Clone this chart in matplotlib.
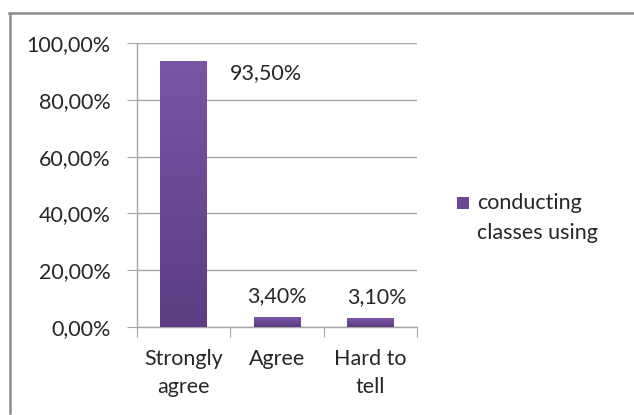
import numpy as np
import matplotlib
matplotlib.use("Agg")
import matplotlib.pyplot as plt
from matplotlib.colors import LinearSegmentedColormap
from matplotlib.lines import Line2D
from matplotlib.patches import Rectangle

categories = ["Strongly\nagree", "Agree", "Hard to\ntell"]
values = [93.5, 3.4, 3.1]
value_labels = ["93,50%", "3,40%", "3,10%"]
series_lines = ["conducting", "classes using"]
y_ticks = [0, 20, 40, 60, 80, 100]

plt.rcParams["font.family"] = ["Lato", "DejaVu Sans"]
fs = 15.5
text_color = "#262626"
W, H = 634, 415

fig = plt.figure(figsize=(W / 100, H / 100), dpi=100)
fig.patch.set_facecolor("white")

# outer chart frame (top and left edges)
frame = dict(transform=fig.transFigure, color="#8c8c8c", linewidth=1.8)
fig.add_artist(Line2D([9 / W, 1.0], [1 - 13.5 / H, 1 - 13.5 / H], **frame))
fig.add_artist(Line2D([9.5 / W, 9.5 / W], [1 - 13.5 / H, 1 - 413 / H], **frame))

ax = fig.add_axes([137 / W, 88 / H, 280 / W, 284 / H])

purple = LinearSegmentedColormap.from_list("bar", ["#5c3d83", "#7a55a6"])
grad = np.linspace(0, 1, 256).reshape(-1, 1)
x = np.arange(len(values))
width = 0.5
for xi, v in zip(x, values):
    ax.imshow(grad, cmap=purple, origin="lower", aspect="auto",
              extent=(xi - width / 2, xi + width / 2, 0, v), zorder=3)
ax.set_xlim(-0.5, 2.5)
ax.set_ylim(0, 100)

# value labels
ax.text(0.88, 89.5, value_labels[0], ha="center", va="center", fontsize=fs, color=text_color)
ax.text(1.0, values[1] + 7.5, value_labels[1], ha="center", va="center", fontsize=fs, color=text_color)
ax.text(2.07, values[2] + 7.5, value_labels[2], ha="center", va="center", fontsize=fs, color=text_color)

ax.set_yticks(y_ticks)
ax.set_yticklabels([f"{t},00%" for t in y_ticks], fontsize=fs, color=text_color)
ax.yaxis.grid(True, color="#a6a6a6", linewidth=1.0, zorder=0)
ax.set_axisbelow(True)

ax.set_xticks([-0.5, 0.5, 1.5, 2.5])
ax.set_xticklabels([])
ax.set_xticks(x, minor=True)
ax.set_xticklabels(categories, minor=True, fontsize=fs, color=text_color, linespacing=1.5)
ax.tick_params(axis="x", which="minor", length=0, pad=16)
ax.tick_params(axis="x", which="major", length=7, color="#a6a6a6", direction="out")
ax.tick_params(axis="y", length=7, color="#a6a6a6", pad=12)

for s in ["top", "right"]:
    ax.spines[s].set_visible(False)
for s in ["left", "bottom"]:
    ax.spines[s].set_color("#a6a6a6")
    ax.spines[s].set_linewidth(1.0)

# legend
fig.add_artist(Rectangle((457 / W, 1 - 209 / H), 12 / W, 12 / H,
                         transform=fig.transFigure, facecolor="#6b4895",
                         edgecolor="none"))
for i, line in enumerate(series_lines):
    fig.text(477 / W, 1 - (203 + 30 * i) / H, line, ha="left", va="center",
             fontsize=fs, color=text_color)

fig.savefig("out.png", dpi=100)
